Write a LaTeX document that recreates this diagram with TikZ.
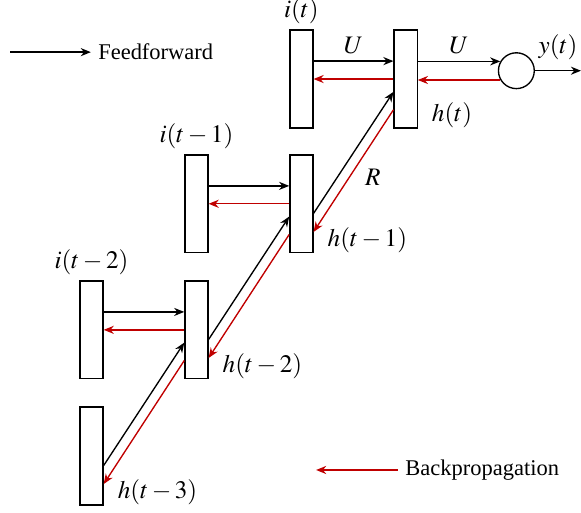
\documentclass[tikz,border=0pt]{standalone}
\usepackage{mathptmx}
\usepackage{fontspec}
\setmainfont{Liberation Serif}
\usepackage{xcolor}
\usepackage{tikz}
\usetikzlibrary{arrows.meta,positioning}
\definecolor{bpred}{RGB}{192,0,0}

\begin{document}
\begin{tikzpicture}[>={Stealth[length=4.5pt,width=3.6pt]},line width=0.6pt,
cell/.style={draw,minimum width=0.36cm,minimum height=1.53cm,inner sep=0pt},
lab/.style={font=\fontsize{11.2}{14}\selectfont,inner sep=0pt},
back/.style={->,draw=bpred,fill=bpred}]
\useasboundingbox(-1.43,-0.89)rectangle(7.65,7.125);
% cells
\node[cell](h3)at(0,0){};
\node[cell](i2)at(0,1.97){};
\node[cell](h2)at(1.64,1.97){};
\node[cell](i1)at(1.64,3.94){};
\node[cell](h1)at(3.28,3.94){};
\node[cell](i0)at(3.28,5.89){};
\node[cell](h0)at(4.91,5.89){};
\node[draw,circle,minimum size=0.56cm,inner sep=0pt](y)at(6.64,6.02){};
\coordinate(yend)at(7.65,6.02);
% labels
\node[lab,above=2pt of i0](li0){$i(t)$};
\node[lab,above=2pt of i1](li1){$i(t-1)$};
\node[lab,above=2pt of i2](li2){$i(t-2)$};
\node[lab,anchor=west](lh0)at([xshift=0.21cm,yshift=0.21cm]h0.south east){$h(t)$};
\node[lab,anchor=west](lh1)at([xshift=0.21cm,yshift=0.21cm]h1.south east){$h(t-1)$};
\node[lab,anchor=west](lh2)at([xshift=0.21cm,yshift=0.21cm]h2.south east){$h(t-2)$};
\node[lab,anchor=west](lh3)at([xshift=0.21cm,yshift=0.21cm]h3.south east){$h(t-3)$};
\node[lab](ly)at([xshift=0.36cm,yshift=0.36cm]y.east){$y(t)$};
% input to hidden
\draw[->]([yshift=0.28cm]i0.east)--([yshift=0.28cm]h0.west)node[lab,midway,above=3pt](u1){$U$};
\draw[->]([yshift=0.28cm]i1.east)--([yshift=0.28cm]h1.west);
\draw[->]([yshift=0.28cm]i2.east)--([yshift=0.28cm]h2.west);
\draw[back](h0.west)--(i0.east);
\draw[back](h1.west)--(i1.east);
\draw[back](h2.west)--(i2.east);
% output
\draw[->](h0.east|-y.150)--(y.150)node[lab,midway,above=3pt](u2){$U$};
\draw[back](y.210)--(h0.east|-y.210);
\draw[->](y.east)--(yend);
% hidden to hidden
\draw[->]([yshift=-0.15cm]h3.east)--([yshift=-0.2cm]h2.west);
\draw[->]([yshift=-0.15cm]h2.east)--([yshift=-0.2cm]h1.west);
\draw[->]([yshift=-0.15cm]h1.east)--([yshift=-0.2cm]h0.west);
\draw[back]([yshift=-0.48cm]h2.west)--([yshift=-0.44cm]h3.east);
\draw[back]([yshift=-0.48cm]h1.west)--([yshift=-0.44cm]h2.east);
\draw[back]([yshift=-0.48cm]h0.west)--([yshift=-0.44cm]h1.east)node[lab,midway,xshift=0.3cm,yshift=-0.1cm,text=black](r){$R$};
% legend
\node[anchor=west,inner sep=3pt](ff)at(-0.01,6.31){Feedforward};
\coordinate(ffs)at(-1.27,6.31);
\draw[->](ffs)--(ff.west);
\node[anchor=west,inner sep=3pt](bp)at(4.79,-0.22){Backpropagation};
\coordinate(bpe)at(3.51,-0.22);
\draw[back](bp.west)--(bpe);
\end{tikzpicture}
\end{document}
